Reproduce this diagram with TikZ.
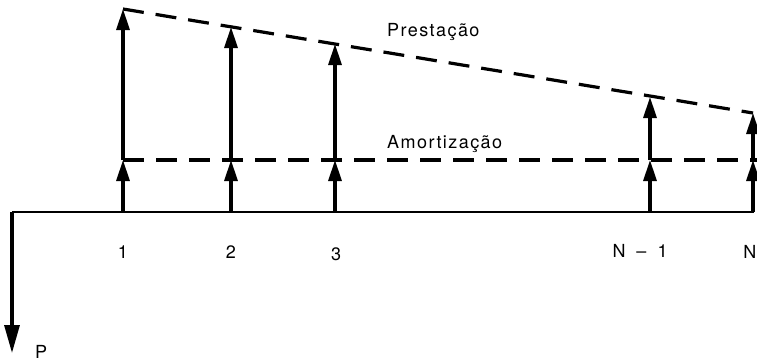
\documentclass[tikz,border=0pt]{standalone}
\usepackage{fontspec}
\setmainfont{TeX Gyre Heros}
\newfontfamily\lblfont[LetterSpace=8]{TeX Gyre Heros}
\usetikzlibrary{arrows.meta}
\begin{document}
\begin{tikzpicture}[x=1pt,y=-1pt,
  flow/.style={line width=3.2pt,-{Triangle[length=21pt,width=13pt]}},
  dline/.style={line width=3.2pt,dash pattern=on 21pt off 12pt},
  axis/.style={line width=2.8pt},
  lbl/.style={font={\lblfont\fontsize{18}{20}\selectfont},inner sep=0pt}]
\useasboundingbox (0,0) rectangle (757,362);
% base line
\coordinate (L) at (12,212);
\coordinate (R) at (754,212);
\coordinate (Pend) at (12,353);
\draw[axis] (L) -- (R);
\draw[line width=3.2pt,-{Triangle[length=28pt,width=15pt]}] (L) -- (Pend);
\node[lbl,anchor=base west] (P) at (35,358) {P};
% periods
\foreach \n/\x/\t in {a/123/9,b/231/27,c/335/44,d/650/97,e/753/113}{
  \coordinate (base\n) at (\x,212);
  \coordinate (am\n) at (\x,160);
  \coordinate (top\n) at (\x,\t);
  \draw[flow] (base\n) -- (am\n);
  \draw[flow] (am\n) -- (top\n);
}
% dashed lines
\coordinate (amend) at (757,160);
\draw[dline] (topa) -- (tope);
\draw[dline] (ama) -- (amend);
% labels
\node[lbl,anchor=base west] (pre) at (387,36) {Prestação};
\node[lbl,anchor=base west] (amo) at (387,148) {Amortização};
\node[lbl,anchor=base] (l1) at (123,258) {1};
\node[lbl,anchor=base] (l2) at (231,258) {2};
\node[lbl,anchor=base] (l3) at (336,260) {3};
\node[lbl,anchor=base] (l4) at (640,257) {N\hspace{11pt}\textendash\hspace{11pt}1};
\node[lbl,anchor=base east] (l5) at (756.5,258) {N};
\end{tikzpicture}
\end{document}
